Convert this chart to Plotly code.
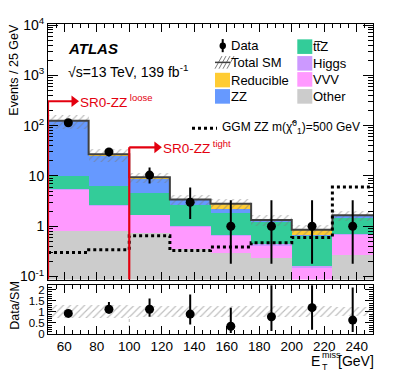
import numpy as np
import plotly.graph_objects as go

# binning (GeV)
bin_edges = [50, 75, 100, 125, 150, 175, 200, 225, 250]
bin_centers = [62.5, 87.5, 112.5, 137.5, 162.5, 187.5, 212.5, 237.5]

# stacked SM backgrounds, bottom to top
other = [0.82, 0.79, 0.72, 0.36, 0.30, 0.23, 0.0, 0.265]
vvv = [4.65, 1.78, 0.96, 0.62, 0.36, 0.19, 0.15, 0.42]
higgs = [0.03, 0.03, 0.02, 0.02, 0.02, 0.02, 0.01, 0.025]
ttz = [4.4, 3.6, 2.8, 1.67, 1.19, 0.81, 0.49, 0.79]
zz = [115.0, 19.8, 4.5, 0.68, 0.30, 0.05, 0.03, 0.10]
reducible = [0.2, 1.0, 0.4, 0.05, 0.63, 0.03, 0.17, 0.06]
sm_rel_unc = [0.30, 0.30, 0.23, 0.23, 0.26, 0.24, 0.24, 0.22]

# data
data = [114, 30, 10.4, 3.0, 1.0, 1.0, 1.0, 1.0]
data_up = [10.7, 6.0, 4.4, 2.9, 2.3, 2.3, 2.3, 2.3]
data_dn = [10.6, 5.5, 3.35, 1.6, 0.82, 0.82, 0.82, 0.82]

# signal
ggm = [0.30, 0.34, 0.65, 0.33, 0.385, 0.47, 0.60, 6.0]

# ratio panel
ratio = [0.93, 1.12, 1.12, 0.90, 0.35, 0.78, 1.19, 0.63]
ratio_up = [0.09, 0.33, 0.48, 0.88, 0.84, 1.8, 3.0, 1.47]
ratio_dn = [0.09, 0.19, 0.34, 0.47, 0.31, 0.65, 1.0, 0.54]

# signal region markers
sr_loose = (50, 305)
sr_tight = (100, 37)

# page has an 8px body margin, so the figure is shrunk to fit the window
W, H = 395, 379
OFF = 8
L, R, T, B = 48, 22, 15, 45
PW, PH = W - L - R, H - T - B
FONT = "Liberation Sans, Arial, sans-serif"
RED = "#e3000f"


def px(x):
    return (x - L) / PW


def py(y):
    return (H - B - y) / PH


fig = go.Figure()

components = [
    ("Other", other, "#cccccc"),
    ("VVV", vvv, "#ff99ff"),
    ("Higgs", higgs, "#cc99ff"),
    ("ttZ", ttz, "#33cc99"),
    ("ZZ", zz, "#6699ff"),
    ("Reducible", reducible, "#ffcc33"),
]
cum = np.zeros(len(bin_centers))
for name, vals, col in components:
    vals = np.array(vals)
    fig.add_trace(go.Bar(
        x=bin_centers, y=vals, base=cum.copy() if cum.sum() > 0 else None,
        width=25, marker=dict(color=col, line=dict(width=0)),
        name=name, showlegend=False, xaxis="x", yaxis="y",
    ))
    cum = cum + vals
total = cum

# uncertainty hatch
unc = np.array(sm_rel_unc)
hatch = dict(shape="/", fgcolor="#7a7a7a", size=5, solidity=0.22, fillmode="overlay")
fig.add_trace(go.Bar(
    x=bin_centers, y=total * 2 * unc, base=total * (1 - unc), width=25,
    marker=dict(color="rgba(0,0,0,0)", line=dict(width=0), pattern=hatch),
    showlegend=False, xaxis="x", yaxis="y",
))

# total SM outline
fig.add_trace(go.Scatter(
    x=bin_edges, y=list(total) + [total[-1]], mode="lines", line_shape="hv",
    line=dict(color="#404040", width=2), showlegend=False, xaxis="x", yaxis="y",
))

# GGM signal
fig.add_trace(go.Scatter(
    x=bin_edges, y=ggm + [ggm[-1]], mode="lines", line_shape="hv",
    line=dict(color="black", width=3, dash="3px,3px"), showlegend=False,
    xaxis="x", yaxis="y",
))

# data
fig.add_trace(go.Scatter(
    x=bin_centers, y=data, mode="markers",
    marker=dict(color="black", size=9),
    error_y=dict(type="data", symmetric=False, array=data_up, arrayminus=data_dn,
                 thickness=2, width=0, color="black"),
    showlegend=False, xaxis="x", yaxis="y",
))

# SR arrows
for (xv, yv), x_tip, label in [(sr_loose, 66, "loose"), (sr_tight, 117, "tight")]:
    fig.add_shape(type="line", xref="x", yref="y", x0=xv, x1=xv, y0=1e-3, y1=yv,
                  line=dict(color=RED, width=2.2), layer="above")
    fig.add_shape(type="line", xref="x", yref="y", x0=xv, x1=x_tip, y0=yv, y1=yv,
                  line=dict(color=RED, width=2.2), layer="above")
    fig.add_trace(go.Scatter(
        x=[x_tip], y=[yv], mode="markers", cliponaxis=False,
        marker=dict(symbol="triangle-right", color=RED, size=10),
        showlegend=False, xaxis="x", yaxis="y",
    ))
    fig.add_annotation(x=x_tip + 2.5, y=np.log10(yv), xref="x", yref="y",
                       text="SR0-ZZ<sup> %s</sup>" % label, showarrow=False,
                       xanchor="left", yanchor="middle",
                       font=dict(color=RED, size=13.5, family=FONT))

# ratio panel
fig.add_shape(type="line", xref="x2", yref="y2", x0=100, x1=100, y0=0, y1=0.7,
              line=dict(color="#bbbbbb", width=1, dash="dot"), layer="below")
fig.add_trace(go.Bar(
    x=bin_centers, y=2 * unc, base=1 - unc, width=25,
    marker=dict(color="rgba(0,0,0,0)", line=dict(width=0), pattern=hatch),
    showlegend=False, xaxis="x2", yaxis="y2",
))
fig.add_trace(go.Scatter(
    x=bin_centers, y=ratio, mode="markers",
    marker=dict(color="black", size=9),
    error_y=dict(type="data", symmetric=False, array=ratio_up, arrayminus=ratio_dn,
                 thickness=2, width=0, color="black"),
    showlegend=False, xaxis="x2", yaxis="y2",
))

# legend (drawn by hand, two columns)
def box(x0, y0, x1, y1, col):
    fig.add_shape(type="rect", xref="paper", yref="paper",
                  x0=px(x0), x1=px(x1), y0=py(y1), y1=py(y0),
                  fillcolor=col, line=dict(width=0), layer="above")


def legtext(x, y, txt, size=13):
    fig.add_annotation(x=px(x), y=py(y), xref="paper", yref="paper", text=txt,
                       showarrow=False, xanchor="left", yanchor="middle",
                       font=dict(size=size, color="black", family=FONT))


# Data
fig.add_shape(type="line", xref="paper", yref="paper", x0=px(222.7), x1=px(222.7),
              y0=py(44), y1=py(30.5), line=dict(color="black", width=2))
fig.add_shape(type="circle", xref="paper", yref="paper", x0=px(219.5), x1=px(226),
              y0=py(41), y1=py(34), fillcolor="black", line=dict(width=0))
legtext(229, 37.3, "Data")
# Total SM hatch
for k in range(4):
    fig.add_shape(type="line", xref="paper", yref="paper",
                  x0=px(215 + 4 * k), x1=px(222 + 4 * k), y0=py(61), y1=py(48),
                  line=dict(color="#7a7a7a", width=1))
fig.add_shape(type="line", xref="paper", yref="paper", x0=px(215), x1=px(230),
              y0=py(54.5), y1=py(54.5), line=dict(color="#404040", width=1.5))
legtext(229, 54.3, "Total SM")
legend_rows = [
    (215, 72.7, "#ffcc33", "Reducible"),
    (215, 89.5, "#6699ff", "ZZ"),
    (297.3, 38.3, "#33cc99", "tt\u0305Z"),
    (297.3, 55.5, "#cc99ff", "Higgs"),
    (297.3, 72.0, "#ff99ff", "VVV"),
    (297.3, 89.5, "#cccccc", "Other"),
]
for x0, yc, col, txt in legend_rows:
    box(x0, yc - 7.5, x0 + 15, yc + 7.5, col)
    legtext(x0 + 14, yc, txt)

# GGM legend
fig.add_shape(type="line", xref="paper", yref="paper", x0=px(192), x1=px(217),
              y0=py(122.3), y1=py(122.3),
              line=dict(color="black", width=3, dash="3px,3px"))
legtext(220, 121.5, "GGM ZZ m(\u03c7\u0303<sup>0</sup><sub>1</sub>)=500 GeV", size=12)

# ATLAS label
fig.add_annotation(x=px(66), y=py(40), xref="paper", yref="paper",
                   text="<b><i>ATLAS</i></b>", showarrow=False, xanchor="left",
                   yanchor="middle", font=dict(size=15, color="black", family=FONT))
fig.add_annotation(x=px(66), y=py(63), xref="paper", yref="paper",
                   text="\u221as=13 TeV, 139 fb<sup>-1</sup>", showarrow=False,
                   xanchor="left", yanchor="middle",
                   font=dict(size=14, color="black", family=FONT))

# axis titles
fig.add_annotation(x=px(14.5), y=py(62.5), xref="paper", yref="paper",
                   text="Events / 25 GeV", textangle=-90, showarrow=False,
                   xanchor="center", yanchor="middle",
                   font=dict(size=12.5, color="black", family=FONT))
fig.add_annotation(x=px(15), y=py(305), xref="paper", yref="paper",
                   text="Data/SM", textangle=-90, showarrow=False,
                   xanchor="center", yanchor="middle",
                   font=dict(size=12.5, color="black", family=FONT))
fig.add_annotation(x=px(322), y=py(362), xref="paper", yref="paper", text="E",
                   showarrow=False, xanchor="right", yanchor="middle",
                   font=dict(size=14, color="black", family=FONT))
fig.add_annotation(x=px(320), y=py(355.5), xref="paper", yref="paper", text="miss",
                   showarrow=False, xanchor="left", yanchor="middle",
                   font=dict(size=9, color="black", family=FONT))
fig.add_annotation(x=px(320), y=py(367.5), xref="paper", yref="paper", text="T",
                   showarrow=False, xanchor="left", yanchor="middle",
                   font=dict(size=9, color="black", family=FONT))
fig.add_annotation(x=px(376), y=py(362), xref="paper", yref="paper", text="[GeV]",
                   showarrow=False, xanchor="right", yanchor="middle",
                   font=dict(size=14, color="black", family=FONT))

log_minor = [k * 10.0 ** d for d in range(-2, 4) for k in range(2, 10)]
axis_common = dict(showline=True, linecolor="black", linewidth=1, mirror="allticks",
                   ticks="inside", tickcolor="black", showgrid=False, zeroline=False,
                   ticklabeloverflow="allow",
                   tickfont=dict(size=14, color="black", family=FONT))

fig.update_layout(
    width=W - OFF, height=H - OFF,
    margin=dict(l=L - OFF, r=R, t=T - OFF, b=B),
    paper_bgcolor="white", plot_bgcolor="white",
    barmode="overlay", bargap=0,
    showlegend=False,
    xaxis=dict(axis_common, domain=[0, 1], anchor="y", range=[50, 250],
               matches="x2", showticklabels=False, tickvals=list(range(60, 241, 20)),
               ticklen=8, minor=dict(ticks="inside", dtick=5, tick0=60, ticklen=4,
                                     tickcolor="black")),
    yaxis=dict(axis_common, domain=[0.1755, 1], anchor="x", type="log",
               range=[-1.06, 4.02],
               tickvals=[0.1, 1, 10, 100, 1000, 10000],
               ticktext=["10<sup>-1</sup>", "1", "10", "10<sup>2</sup>",
                         "10<sup>3</sup>", "10<sup>4</sup>"],
               ticklen=10,
               minor=dict(ticks="inside", tickmode="array", tickvals=log_minor,
                          ticklen=5, tickcolor="black")),
    xaxis2=dict(axis_common, domain=[0, 1], anchor="y2", range=[50, 250],
                tickvals=list(range(60, 241, 20)), ticklen=8,
                tickfont=dict(size=13.5, color="black", family=FONT),
                minor=dict(ticks="inside", dtick=5, tick0=60, ticklen=4,
                           tickcolor="black")),
    yaxis2=dict(axis_common, domain=[0, 0.157], anchor="x2", range=[0, 2.2],
                tickvals=[0, 0.5, 1, 1.5, 2], ticktext=["0", "0.5", "1", "1.5", "2"],
                ticklen=8, tickfont=dict(size=11.5, color="black", family=FONT),
                minor=dict(ticks="inside", dtick=0.1, ticklen=4, tickcolor="black")),
)

fig.write_html("out.html")
